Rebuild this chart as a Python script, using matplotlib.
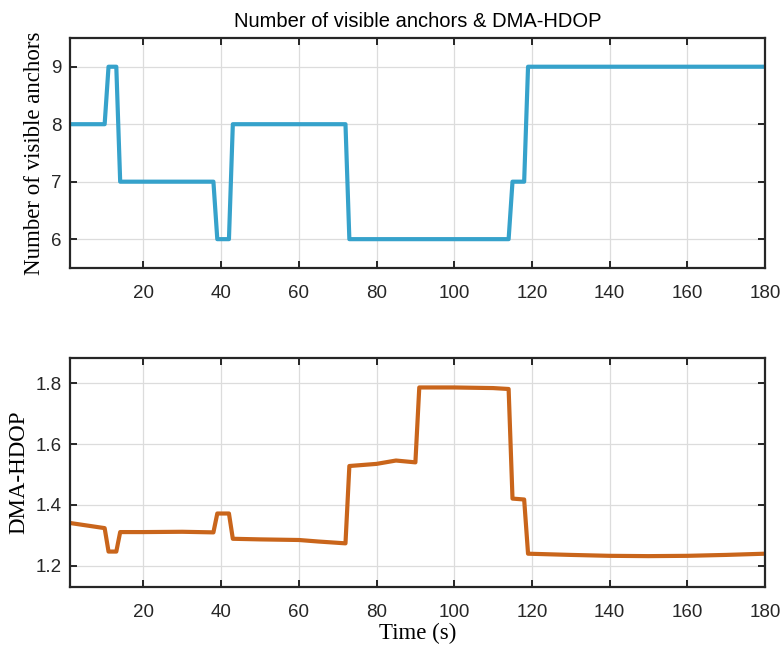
import matplotlib
matplotlib.use("Agg")
import matplotlib.pyplot as plt

# number of visible anchors (breakpoints, 1 s sampling)
t_anchors = [1, 10, 11, 13, 14, 38, 39, 42, 43, 72, 73, 114, 115, 118, 119, 180]
n_anchors = [8, 8, 9, 9, 7, 7, 6, 6, 8, 8, 6, 6, 7, 7, 9, 9]

# DMA-HDOP
t_hdop = [1, 10, 11, 13, 14, 20, 30, 38, 39, 42, 43, 50, 60, 65, 72, 73,
          80, 85, 90, 91, 100, 110, 114, 115, 118, 119, 130, 140, 150, 160, 170, 180]
hdop = [1.341, 1.324, 1.247, 1.247, 1.311, 1.311, 1.312, 1.310, 1.372, 1.372, 1.289, 1.287,
        1.285, 1.280, 1.274, 1.528, 1.535, 1.546, 1.540, 1.786, 1.786, 1.784, 1.781, 1.421,
        1.418, 1.240, 1.236, 1.233, 1.232, 1.233, 1.236, 1.240]

blue = "#36a2cb"
orange = "#c9651b"
sans = "Liberation Sans"
serif = "Liberation Serif"

fig = plt.figure(figsize=(7.83, 6.55), dpi=100)
ax1 = fig.add_axes([0.089, 0.591, 0.888, 0.351])
ax2 = fig.add_axes([0.089, 0.104, 0.888, 0.350])

ax1.plot(t_anchors, n_anchors, color=blue, lw=3.0)
ax2.plot(t_hdop, hdop, color=orange, lw=3.0)

ax1.set_ylim(5.5, 9.5)
ax1.set_yticks([6, 7, 8, 9])
ax2.set_ylim(1.131, 1.884)
ax2.set_yticks([1.2, 1.4, 1.6, 1.8])
ax2.set_yticklabels(["1.2", "1.4", "1.6", "1.8"])

for ax in (ax1, ax2):
    ax.set_xlim(1, 180)
    ax.set_xticks(range(20, 181, 20))
    ax.grid(True, color="#dcdcdc", lw=0.9)
    ax.set_axisbelow(True)
    ax.tick_params(direction="in", top=True, right=True, length=5, width=1.4,
                   color="#262626", labelsize=13.5, labelcolor="#262626", pad=6)
    ax.tick_params(axis="x", pad=12)
    for lab in ax.get_xticklabels() + ax.get_yticklabels():
        lab.set_fontfamily(sans)
    for sp in ax.spines.values():
        sp.set_linewidth(1.6)
        sp.set_color("#262626")

ax1.set_title("Number of visible anchors & DMA-HDOP", fontsize=14.5, family=sans, pad=8)
ax1.set_ylabel("Number of visible anchors", fontsize=16.5, family=serif)
ax2.set_ylabel("DMA-HDOP", fontsize=16.5, family=serif)
ax2.set_xlabel("Time (s)", fontsize=16.5, family=serif, labelpad=2)

fig.savefig("out.png", dpi=100)
